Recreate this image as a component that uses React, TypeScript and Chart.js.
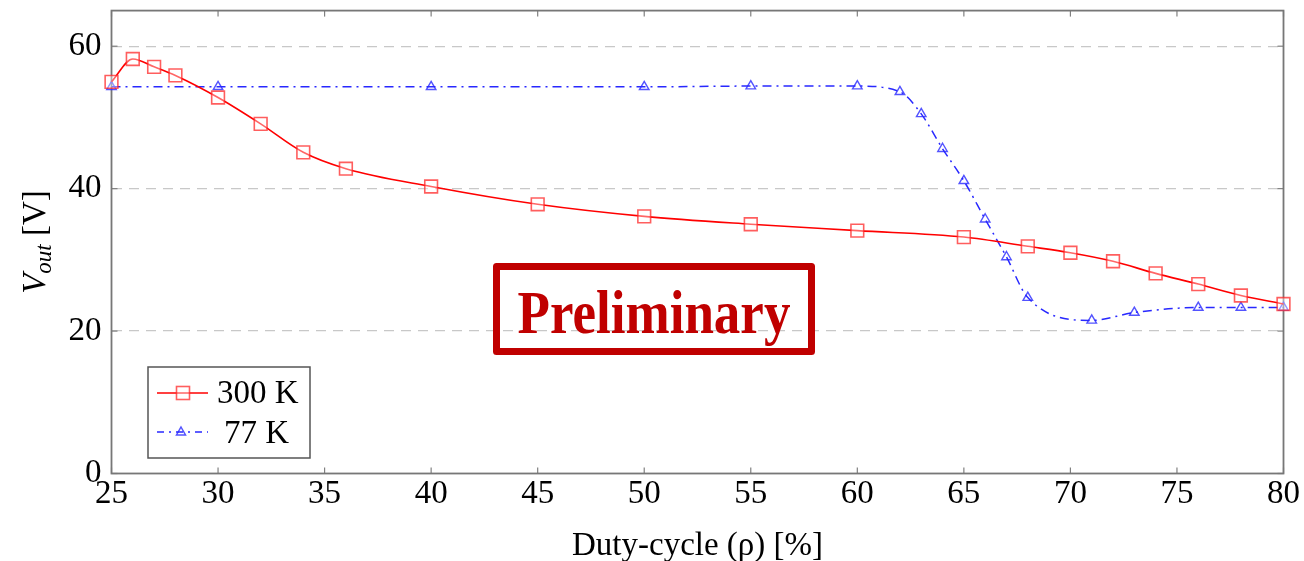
import React, { useEffect, useRef } from 'react';
import { Chart, registerables } from 'chart.js';

Chart.register(...registerables);

// ---- data ----
const duty300 = [25, 26, 27, 28, 30, 32, 34, 36, 40, 45, 50, 55, 60, 65, 68, 70, 72, 74, 76, 78, 80];
const vout300 = [55.0, 58.2, 57.1, 55.9, 52.8, 49.1, 45.1, 42.8, 40.3, 37.8, 36.1, 35.0, 34.1, 33.2, 31.9, 31.0, 29.8, 28.1, 26.6, 25.0, 23.8];
const duty77 = [25, 30, 40, 50, 55, 60, 62, 63, 64, 65, 66, 67, 68, 71, 73, 76, 78, 80];
const vout77 = [54.3, 54.3, 54.3, 54.3, 54.4, 54.4, 53.6, 50.5, 45.6, 41.1, 35.7, 30.4, 24.7, 21.5, 22.6, 23.3, 23.3, 23.3];
const xTicks = [25, 30, 35, 40, 45, 50, 55, 60, 65, 70, 75, 80];
const yTicks = [0, 20, 40, 60];
const seriesLabels = ['300 K', '77 K'];
const xTitle = 'Duty-cycle (\u03C1) [%]';
const yTitleMain = 'V';
const yTitleSub = 'out';
const yTitleUnit = ' [V]';
const watermark = 'Preliminary';

const SERIF = '"Liberation Serif", "Times New Roman", serif';
const RED = 'rgb(255,0,0)';
const RED_MARK = 'rgba(255,40,40,0.75)';
const BLUE = 'rgb(40,40,255)';
const BLUE_MARK = 'rgba(40,40,255,0.8)';
const WM = 'rgb(192,0,0)';

const decorPlugin = {
  id: 'decor',
  beforeDatasetsDraw(chart: any) {
    const { ctx, chartArea: a, scales } = chart;
    const x = scales.x;
    const y = scales.y;
    ctx.save();
    ctx.strokeStyle = '#808080';
    ctx.lineWidth = 1.2;
    const seg = (x1: number, y1: number, x2: number, y2: number) => {
      ctx.beginPath();
      ctx.moveTo(x1, y1);
      ctx.lineTo(x2, y2);
      ctx.stroke();
    };
    xTicks.forEach((v) => {
      const px = x.getPixelForValue(v);
      seg(px, a.bottom, px, a.bottom - 6);
      seg(px, a.top, px, a.top + 6);
    });
    yTicks.forEach((v) => {
      const py = y.getPixelForValue(v);
      seg(a.left, py, a.left + 6, py);
      seg(a.right, py, a.right - 6, py);
    });
    ctx.strokeStyle = '#777777';
    ctx.lineWidth = 1.8;
    ctx.strokeRect(a.left, a.top, a.right - a.left, a.bottom - a.top);
    ctx.restore();
  },
  afterDatasetsDraw(chart: any) {
    const { ctx } = chart;
    ctx.save();
    // watermark box
    ctx.strokeStyle = WM;
    ctx.lineWidth = 7;
    ctx.lineJoin = 'round';
    ctx.strokeRect(496.5, 266.5, 315, 85);
    ctx.fillStyle = WM;
    ctx.font = `bold 53px ${SERIF}`;
    ctx.textAlign = 'center';
    ctx.textBaseline = 'alphabetic';
    ctx.save();
    ctx.translate(654, 333);
    ctx.scale(1, 1.15);
    ctx.fillText(watermark, 0, 0);
    ctx.restore();

    // legend box
    ctx.fillStyle = '#ffffff';
    ctx.fillRect(148, 367, 162, 91);
    ctx.strokeStyle = '#555555';
    ctx.lineWidth = 1.5;
    ctx.lineJoin = 'miter';
    ctx.strokeRect(148, 367, 162, 91);

    // 300 K entry
    ctx.strokeStyle = RED;
    ctx.lineWidth = 1.6;
    ctx.setLineDash([]);
    ctx.beginPath();
    ctx.moveTo(157, 393);
    ctx.lineTo(208, 393);
    ctx.stroke();
    ctx.fillStyle = 'rgba(255,255,255,0.4)';
    ctx.fillRect(176.5, 386.5, 13, 13);
    ctx.strokeStyle = RED_MARK;
    ctx.strokeRect(176.5, 386.5, 13, 13);

    // 77 K entry
    ctx.strokeStyle = BLUE;
    ctx.lineWidth = 1.5;
    ctx.setLineDash([7, 5, 2, 5]);
    ctx.beginPath();
    ctx.moveTo(157, 432);
    ctx.lineTo(208, 432);
    ctx.stroke();
    ctx.setLineDash([]);
    ctx.strokeStyle = BLUE_MARK;
    ctx.beginPath();
    ctx.moveTo(181, 427);
    ctx.lineTo(185.5, 435);
    ctx.lineTo(176.5, 435);
    ctx.closePath();
    ctx.stroke();

    ctx.fillStyle = '#000000';
    ctx.font = `33px ${SERIF}`;
    ctx.textAlign = 'left';
    ctx.textBaseline = 'alphabetic';
    ctx.fillText(seriesLabels[0], 217, 403);
    ctx.fillText(seriesLabels[1], 224, 443);
    ctx.restore();
  },
  afterDraw(chart: any) {
    const { ctx } = chart;
    ctx.save();
    ctx.fillStyle = '#000000';
    ctx.textBaseline = 'alphabetic';
    ctx.textAlign = 'left';
    const fMain = `italic 33px ${SERIF}`;
    const fSub = `italic 23px ${SERIF}`;
    const fUnit = `33px ${SERIF}`;
    ctx.font = fMain;
    const w1 = ctx.measureText(yTitleMain).width;
    ctx.font = fSub;
    const w2 = ctx.measureText(yTitleSub).width;
    ctx.font = fUnit;
    const w3 = ctx.measureText(yTitleUnit).width;
    const total = w1 + w2 + w3;
    ctx.translate(45, 242);
    ctx.rotate(-Math.PI / 2);
    let cx = -total / 2;
    ctx.font = fMain;
    ctx.fillText(yTitleMain, cx, 0);
    cx += w1;
    ctx.font = fSub;
    ctx.fillText(yTitleSub, cx, 6);
    cx += w2;
    ctx.font = fUnit;
    ctx.fillText(yTitleUnit, cx, 0);
    ctx.restore();
  },
};

export default function App() {
  const canvasRef = useRef<HTMLCanvasElement | null>(null);

  useEffect(() => {
    if (!canvasRef.current) return;
    const chart = new Chart(canvasRef.current, {
      type: 'line',
      data: {
        datasets: [
          {
            label: seriesLabels[0],
            data: duty300.map((d, i) => ({ x: d, y: vout300[i] })),
            borderColor: RED,
            borderWidth: 1.6,
            cubicInterpolationMode: 'monotone',
            pointStyle: 'rect',
            pointRadius: 9,
            pointBorderWidth: 1.6,
            pointBorderColor: RED_MARK,
            pointBackgroundColor: 'rgba(255,255,255,0.4)',
            fill: false,
            clip: false,
          },
          {
            label: seriesLabels[1],
            data: duty77.map((d, i) => ({ x: d, y: vout77[i] })),
            borderColor: BLUE,
            borderWidth: 1.5,
            borderDash: [9, 5, 2, 5],
            cubicInterpolationMode: 'monotone',
            pointStyle: 'triangle',
            pointRadius: 5.5,
            pointBorderWidth: 1.4,
            pointBorderColor: BLUE_MARK,
            pointBackgroundColor: 'rgba(255,255,255,0)',
            fill: false,
            clip: false,
          },
        ] as any,
      },
      options: {
        animation: false,
        responsive: true,
        maintainAspectRatio: false,
        devicePixelRatio: 1,
        layout: { padding: { left: 0, right: 20.5, top: 10.5, bottom: 0 } },
        plugins: {
          legend: { display: false },
          tooltip: { enabled: false },
        },
        scales: {
          x: {
            type: 'linear',
            min: 25,
            max: 80,
            afterBuildTicks: (s: any) => {
              s.ticks = xTicks.map((v) => ({ value: v }));
            },
            afterFit: (s: any) => {
              s.height = 87.5;
              s.paddingLeft = 0;
              s.paddingRight = 0;
            },
            grid: { display: false, drawTicks: false },
            border: { display: false },
            ticks: {
              color: '#000000',
              font: { family: SERIF, size: 33 },
              padding: 1,
              maxRotation: 0,
              autoSkip: false,
            },
            title: {
              display: true,
              text: xTitle,
              color: '#000000',
              font: { family: SERIF, size: 33, lineHeight: 1 },
              padding: { top: 0, bottom: -2 },
            },
          },
          y: {
            type: 'linear',
            min: 0,
            max: 65,
            afterFit: (s: any) => {
              s.width = 111.5;
              s.paddingTop = 0;
              s.paddingBottom = 0;
            },
            grid: {
              drawTicks: false,
              lineWidth: 1.3,
              color: (c: any) => (c.tick && c.tick.value > 0 && c.tick.value < 65 ? '#c8c8c8' : 'rgba(0,0,0,0)'),
            },
            border: { display: false, dash: [10, 7] },
            ticks: {
              stepSize: 20,
              includeBounds: false,
              color: '#000000',
              font: { family: SERIF, size: 33 },
              padding: 10,
            },
          },
        },
      } as any,
      plugins: [decorPlugin],
    });
    return () => chart.destroy();
  }, []);

  return (
    <div style={{ position: 'absolute', left: 0, top: 0, width: 1304, height: 561, background: '#ffffff' }}>
      <canvas ref={canvasRef} />
    </div>
  );
}
